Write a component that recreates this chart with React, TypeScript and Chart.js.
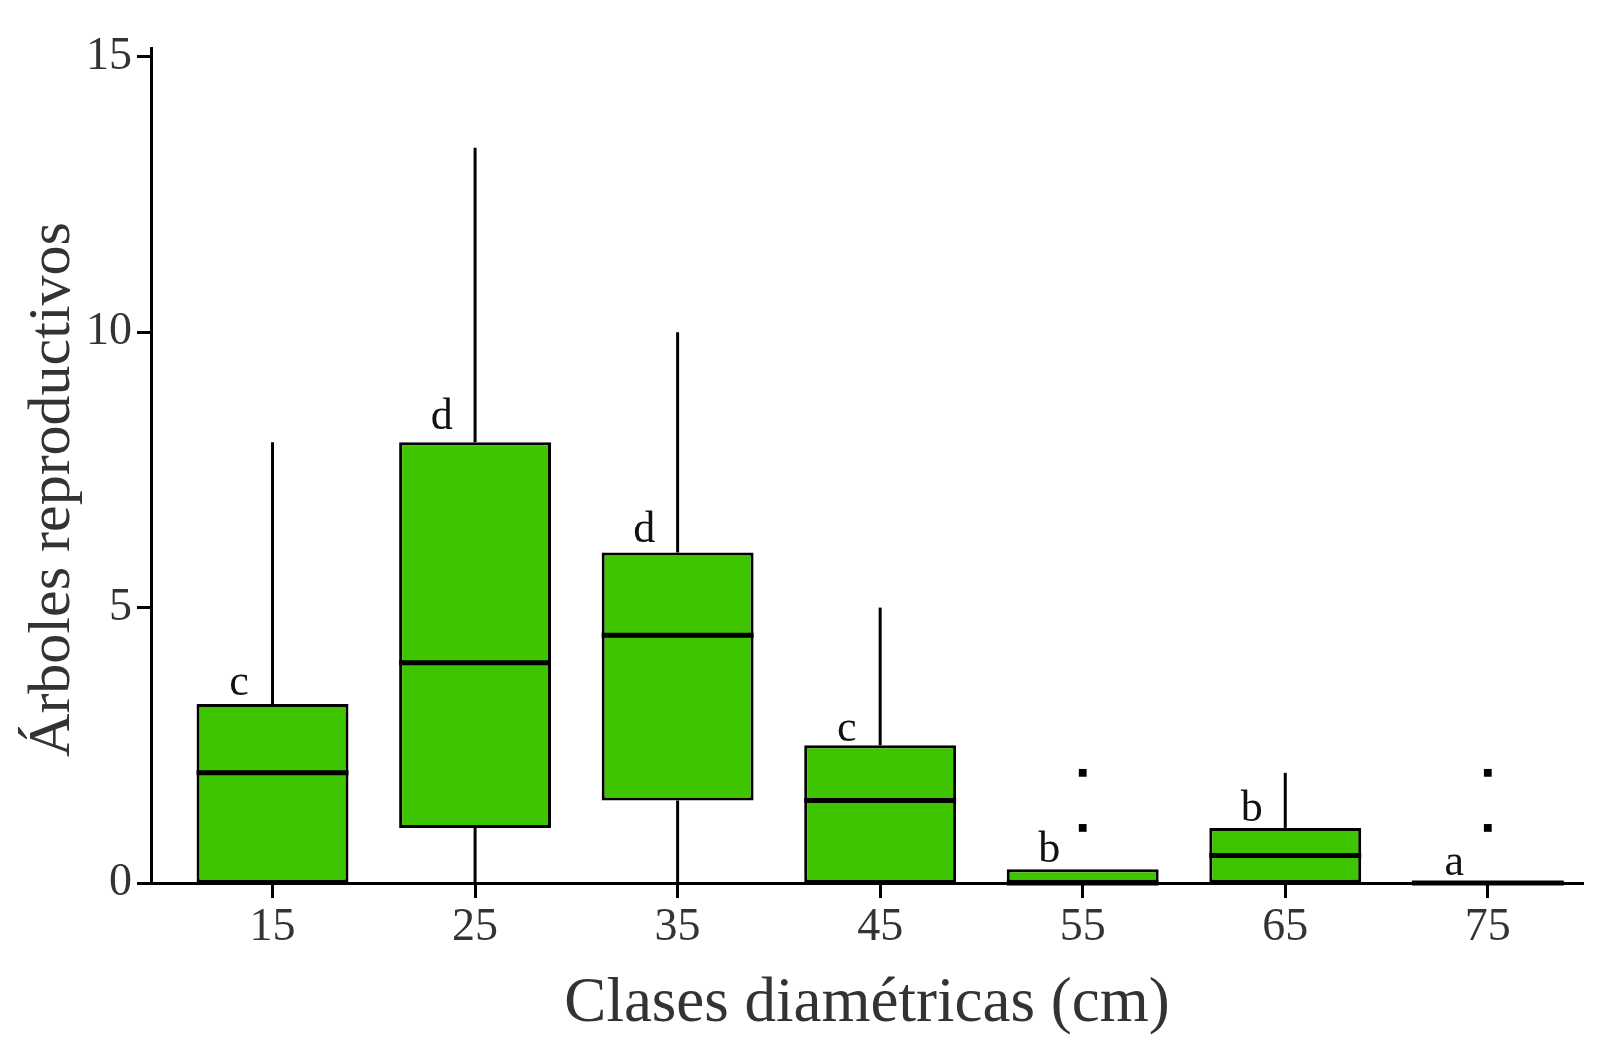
import { useEffect, useRef } from "react";
import { Chart, registerables } from "chart.js";

Chart.register(...registerables);

// Diameter classes (cm) and box statistics per class
const classes = [15, 25, 35, 45, 55, 65, 75];
const lowerWhisker = [0, 0, 0, 0, 0, 0, 0];
const q1 = [0, 1, 1.5, 0, 0, 0, 0];
const median = [2, 4, 4.5, 1.5, 0, 0.5, 0];
const q3 = [3.25, 8, 6, 2.5, 0.25, 1, 0];
const upperWhisker = [8, 13.35, 10, 5, 0.25, 2, 0];

// outliers
const outlierX = [55, 55, 75, 75];
const outlierY = [1, 2, 1, 2];

// significance letters and the height they sit at
const groupLetters = ["c", "d", "d", "c", "b", "b", "a"];
const letterY = [3.42, 8.24, 6.2, 2.58, 0.39, 1.13, 0.15];

const yTicks = [0, 5, 10, 15];
const yTitle = "Árboles reproductivos";

const FONT = "'Liberation Serif', 'Times New Roman', serif";

const boxParts = {
  id: "boxParts",
  beforeDatasetsDraw(chart: any) {
    const { ctx, scales } = chart;
    const { x, y } = scales;
    ctx.save();
    ctx.strokeStyle = "#000";
    ctx.lineWidth = 3;
    classes.forEach((c, i) => {
      const px = x.getPixelForValue(c);
      ctx.beginPath();
      ctx.moveTo(px, y.getPixelForValue(q3[i]));
      ctx.lineTo(px, y.getPixelForValue(upperWhisker[i]));
      ctx.moveTo(px, y.getPixelForValue(q1[i]));
      ctx.lineTo(px, y.getPixelForValue(lowerWhisker[i]));
      ctx.stroke();
    });
    ctx.restore();
  },
  afterDatasetsDraw(chart: any) {
    const { ctx, scales } = chart;
    const { x, y } = scales;
    const meta = chart.getDatasetMeta(0);
    ctx.save();
    ctx.strokeStyle = "#000";
    ctx.lineWidth = 5;
    meta.data.forEach((bar: any, i: number) => {
      const { x: bx, width } = bar.getProps(["x", "width"], true);
      const py = y.getPixelForValue(median[i]);
      ctx.beginPath();
      ctx.moveTo(bx - width / 2, py);
      ctx.lineTo(bx + width / 2, py);
      ctx.stroke();
    });
    ctx.fillStyle = "#111";
    ctx.font = `44px ${FONT}`;
    ctx.textAlign = "center";
    ctx.textBaseline = "alphabetic";
    classes.forEach((c, i) => {
      ctx.fillText(groupLetters[i], x.getPixelForValue(c - 1.65), y.getPixelForValue(letterY[i]));
    });
    ctx.restore();
  },
  afterDraw(chart: any) {
    // y title, sitting a little below the middle of the axis like the original
    const { ctx, chartArea } = chart;
    ctx.save();
    ctx.translate(69, (chartArea.top + chartArea.bottom) / 2 + 24);
    ctx.rotate(-Math.PI / 2);
    ctx.fillStyle = "#333";
    ctx.font = `60px ${FONT}`;
    ctx.textAlign = "center";
    ctx.textBaseline = "alphabetic";
    ctx.fillText(yTitle, 0, 0);
    ctx.restore();
  },
};

const BoxChart = () => {
  const chartRef = useRef<HTMLCanvasElement>(null);

  useEffect(() => {
    document.body.style.margin = "0";
    if (!chartRef.current) return;

    const chartInstance = new Chart(chartRef.current, {
      type: "bar",
      data: {
        datasets: [
          {
            type: "bar",
            data: classes.map((c, i) => ({ x: c, y: [q1[i], q3[i]] })) as any,
            backgroundColor: "#3fc400",
            borderColor: "#000",
            borderWidth: 3,
            borderSkipped: false,
            barPercentage: 0.75,
            categoryPercentage: 1,
          },
          {
            type: "scatter",
            data: outlierX.map((v, i) => ({ x: v, y: outlierY[i] })),
            pointStyle: "rect",
            radius: 5.5,
            backgroundColor: "#000",
            borderWidth: 0,
          } as any,
        ],
      },
      options: {
        animation: false,
        responsive: true,
        maintainAspectRatio: false,
        layout: { padding: { top: 48, right: 17, left: 0, bottom: 0 } },
        plugins: {
          legend: { display: false },
          tooltip: { enabled: false },
        },
        scales: {
          x: {
            type: "linear",
            min: 9,
            max: 79.7,
            offset: false,
            afterBuildTicks: (s: any) => {
              s.ticks = classes.map((v) => ({ value: v }));
            },
            afterFit: (s: any) => {
              s.height = 163;
            },
            grid: {
              offset: false,
              drawOnChartArea: false,
              drawTicks: true,
              tickLength: 15,
              tickWidth: 3,
              tickColor: "#000",
            },
            border: { display: true, color: "#000", width: 3 },
            ticks: {
              color: "#333",
              font: { family: FONT, size: 46 },
              padding: 2,
              maxRotation: 0,
              autoSkip: false,
            },
            title: {
              display: true,
              text: "Clases diamétricas (cm)",
              color: "#333",
              font: { family: FONT, size: 63 },
              padding: { top: 0, bottom: 4 },
            },
          },
          y: {
            type: "linear",
            min: 0,
            max: 15.16,
            afterBuildTicks: (s: any) => {
              s.ticks = yTicks.map((v) => ({ value: v }));
            },
            afterFit: (s: any) => {
              s.width = 151;
            },
            grid: {
              drawOnChartArea: false,
              drawTicks: true,
              tickLength: 14,
              tickWidth: 3,
              tickColor: "#000",
            },
            border: { display: true, color: "#000", width: 3 },
            ticks: {
              color: "#333",
              font: { family: FONT, size: 46 },
              padding: 5,
            },
          },
        },
      },
      plugins: [boxParts],
    });

    return () => {
      chartInstance.destroy();
    };
  }, []);

  return (
    <div style={{ position: "relative", width: "1600px", height: "1046px", background: "#fff" }}>
      <canvas ref={chartRef}></canvas>
    </div>
  );
};

export default function App() {
  return <BoxChart />;
}
